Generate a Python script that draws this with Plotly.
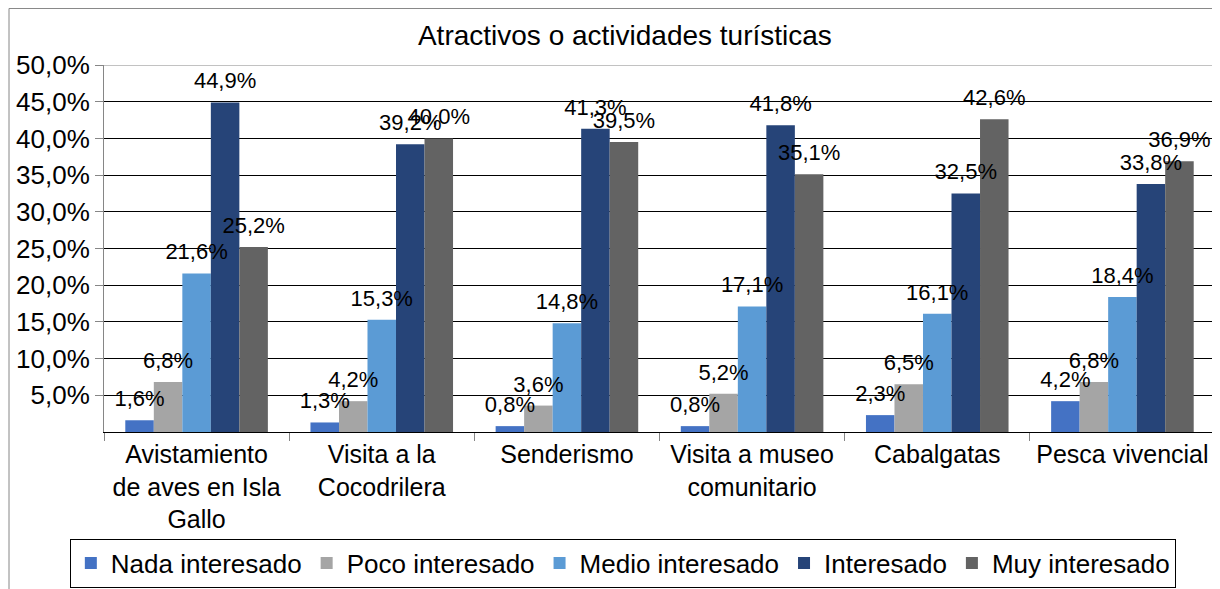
import plotly.graph_objects as go

# Data ----------------------------------------------------------------------
categories = [
    "Avistamiento<br>de aves en Isla<br>Gallo",
    "Visita a la<br>Cocodrilera",
    "Senderismo",
    "Visita a museo<br>comunitario",
    "Cabalgatas",
    "Pesca vivencial",
]
nada_interesado = [1.6, 1.3, 0.8, 0.8, 2.3, 4.2]
poco_interesado = [6.8, 4.2, 3.6, 5.2, 6.5, 6.8]
medio_interesado = [21.6, 15.3, 14.8, 17.1, 16.1, 18.4]
interesado = [44.9, 39.2, 41.3, 41.8, 32.5, 33.8]
muy_interesado = [25.2, 40.0, 39.5, 35.1, 42.6, 36.9]
y_ticks = [5, 10, 15, 20, 25, 30, 35, 40, 45, 50]
y_tick_labels = [f"{v:.1f}%".replace(".", ",") for v in y_ticks]

series = [
    ("Nada interesado", nada_interesado, "#4472C4"),
    ("Poco interesado", poco_interesado, "#A5A5A5"),
    ("Medio interesado", medio_interesado, "#5B9BD5"),
    ("Interesado", interesado, "#264478"),
    ("Muy interesado", muy_interesado, "#636363"),
]

FONT = "Liberation Sans, Arial, sans-serif"

fig = go.Figure()
for name, values, color in series:
    fig.add_trace(go.Bar(
        x=categories, y=values, name=name, offsetgroup=name,
        marker=dict(color=color, line=dict(width=0)),
    ))
# data labels sit a bit above the bars, like the original chart
for name, values, color in series:
    fig.add_trace(go.Scatter(
        x=categories, y=values, offsetgroup=name, showlegend=False, hoverinfo="skip",
        mode="markers+text", marker=dict(size=12, opacity=0),
        text=[f"{v:.1f}%".replace(".", ",") for v in values], textposition="top center",
        textfont=dict(size=22, color="black", family=FONT), cliponaxis=False,
    ))

# page body has an 8px margin, so the figure is 8px smaller on each side
fig.update_layout(
    width=1212, height=581,
    margin=dict(l=96, r=5, t=57, b=157, autoexpand=False),
    paper_bgcolor="white", plot_bgcolor="white",
    separators=",.",
    font=dict(family=FONT, color="black"),
    barmode="group", bargap=0.23, bargroupgap=0,
    scattermode="group", scattergap=0.23,
    title=dict(text="Atractivos o actividades turísticas", x=0.509, xanchor="center",
               y=0.9535, yanchor="middle", yref="container", font=dict(size=28, color="black")),
    legend=dict(orientation="h", x=0.467, xanchor="center", y=-0.357, yanchor="middle",
                bordercolor="black", borderwidth=1, font=dict(size=26),
                itemwidth=30, traceorder="normal"),
    showlegend=True,
)
fig.update_yaxes(
    range=[0, 50], tickvals=y_ticks, ticktext=y_tick_labels,
    tickfont=dict(size=26), showgrid=True, gridcolor="black", gridwidth=1,
    showline=True, linecolor="#868686", ticks="outside", ticklen=8, tickcolor="#868686",
    zeroline=False, automargin=False,
)
fig.update_xaxes(
    tickfont=dict(size=25), showline=True, linecolor="black",
    ticks="outside", tickson="boundaries", ticklen=8, tickcolor="#868686",
    automargin=False,
)
# gray plot-area top edge and outer chart border
fig.add_shape(type="line", xref="paper", yref="y", x0=0, x1=1, y0=50, y1=50,
              line=dict(color="#868686", width=1))
fig.add_shape(type="rect", xref="paper", yref="paper", x0=-0.0855, x1=1.02, y0=-0.45, y1=1.154,
              line=dict(color="#868686", width=1), layer="below")

fig.write_html("out.html")
